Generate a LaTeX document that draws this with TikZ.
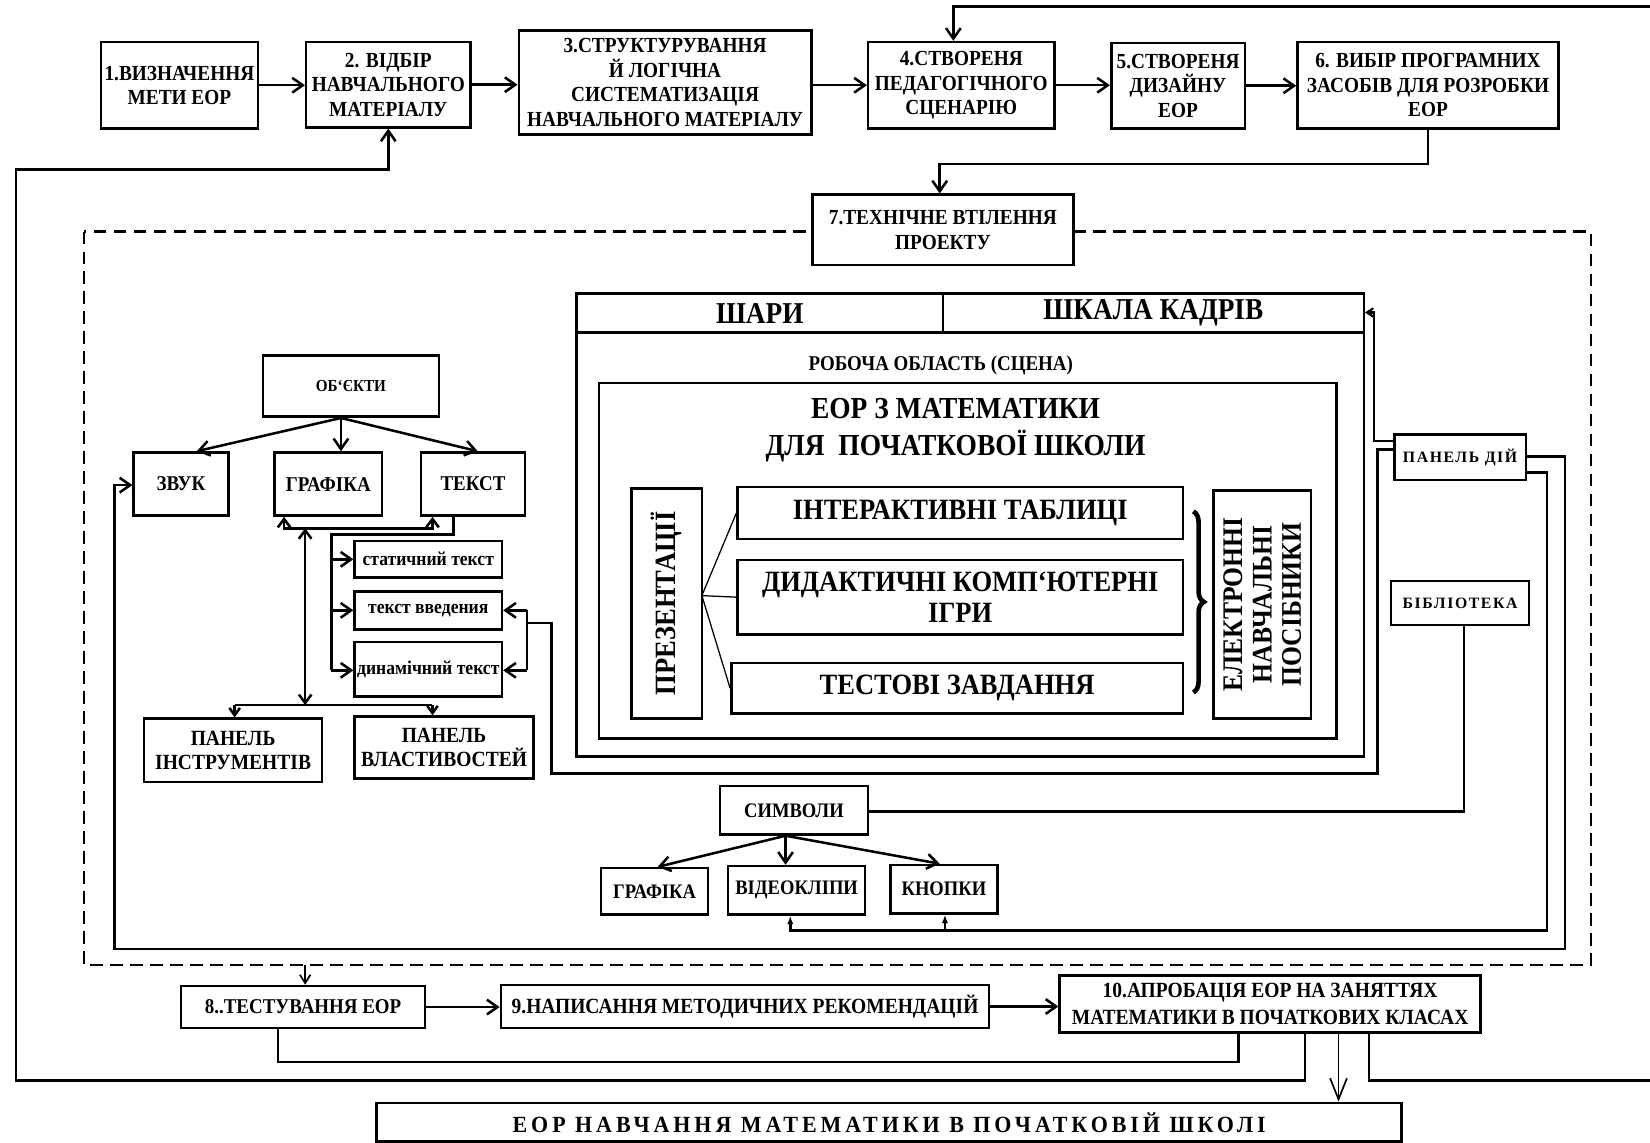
\documentclass[tikz,border=0pt]{standalone}
\usepackage{fontspec}
\setmainfont{Liberation Serif}[FakeStretch=0.9]
\newfontfamily\spfont{Liberation Serif}[LetterSpace=17,FakeStretch=0.95]
\newfontfamily\spsmall{Liberation Serif}[LetterSpace=10]
\usetikzlibrary{arrows.meta,decorations.pathreplacing}
\newcommand\bx[7]{\node[box,#6,minimum width={(#4-#2)*0.5pt},minimum height={(#5-#3)*0.5pt}] (#1) at ({(#2+#4)/2},{(#3+#5)/2}) {#7};}
\begin{document}
\begin{tikzpicture}[x=0.5pt,y=-0.5pt,
  box/.style={draw, line width=1.2pt, fill=white, inner sep=0pt, align=center},
  ln/.style={line width=1.2pt},
  tl/.style={line width=0.6pt},
  arr/.style={ln, -{Straight Barb[length=5pt,width=7pt]}},
  sarr/.style={ln, -{Straight Barb[length=3.5pt,width=5pt]}},
  farr/.style={ln, -{Latex[length=4pt,width=3pt]}},
  bigarr/.style={line width=0.8pt, -{Straight Barb[length=10pt,width=8pt]}},
  dbl/.style={ln, {Straight Barb[length=4pt,width=6pt]}-{Straight Barb[length=4pt,width=6pt]}},
  dsh/.style={line width=1.2pt, dash pattern=on 6pt off 3.5pt},
  fA/.style={font=\fontsize{10.2}{11.6}\selectfont\bfseries},
  fB/.style={font=\fontsize{10}{11.5}\selectfont\bfseries},
  fS/.style={font=\fontsize{8}{9}\selectfont\bfseries},
  fL/.style={font=\fontsize{9.3}{10}\selectfont\bfseries},
  fP/.style={font=\fontsize{10.3}{11.5}\selectfont\bfseries},
  fH/.style={font=\fontsize{14.4}{16}\selectfont\bfseries},
  fR/.style={font=\fontsize{10}{11}\selectfont\bfseries},
  fT/.style={font=\fontsize{14.5}{17.5}\selectfont\bfseries},
  fM/.style={font=\fontsize{14}{14.5}\selectfont\bfseries},
  fE/.style={font=\fontsize{13.5}{14}\selectfont\bfseries},
  fW/.style={font=\fontsize{7.5}{8}\selectfont\spsmall\bfseries},
  fC/.style={font=\fontsize{9.8}{11}\selectfont\bfseries},
  fF/.style={font=\fontsize{11}{12}\selectfont\spfont\bfseries},
]
\useasboundingbox (0,0) rectangle (1568,1086);
\draw[dsh] (80,220) rectangle (1512,917);

% ---------- top row ----------
\bx{b1}{96}{40}{245}{122}{fA}{1.ВИЗНАЧЕННЯ\\МЕТИ ЕОР}
\bx{b2}{291}{40}{447}{121}{fA}{2. ВІДБІР\\НАВЧАЛЬНОГО\\МАТЕРІАЛУ}
\bx{b3}{493}{29}{771}{128}{fA}{3.СТРУКТУРУВАННЯ\\Й ЛОГІЧНА\\СИСТЕМАТИЗАЦІЯ\\НАВЧАЛЬНОГО МАТЕРІАЛУ}
\bx{b4}{825}{40}{1002}{122}{fA}{4.СТВОРЕНЯ\\ПЕДАГОГІЧНОГО\\СЦЕНАРІЮ}
\bx{b5}{1056}{41}{1183}{122}{fA}{5.СТВОРЕНЯ\\ДИЗАЙНУ\\ЕОР}
\bx{b6}{1233}{40}{1481}{122}{fA}{6. ВИБІР ПРОГРАМНИХ\\ЗАСОБІВ ДЛЯ РОЗРОБКИ\\ЕОР}
\bx{b7}{772}{185}{1020}{252}{fA}{7.ТЕХНІЧНЕ ВТІЛЕННЯ\\ПРОЕКТУ}

\draw[arr] (b1.east) -- (b1.east -| b2.west);
\draw[arr] (b2.east) -- (b2.east -| b3.west);
\draw[arr] (b4.west -| b3.east) -- (b4.west);
\draw[arr] (b4.east) -- (b4.east -| b5.west);
\draw[arr] (b5.east) -- (b5.east -| b6.west);

\coordinate (tR) at (1568,6);
\coordinate (t1) at (906,6);
\draw[arr] (tR) -- (t1) -- (t1 |- b4.north);

\coordinate (c6) at (1357,156);
\coordinate (c7) at (893,156);
\draw[arr] (c6 |- b6.south) -- (c6) -- (c7) -- (c7 |- b7.north);

% ---------- bottom row ----------
\bx{b8}{172}{937}{404}{977}{fB}{8..ТЕСТУВАННЯ ЕОР}
\bx{b9}{476}{936}{940}{977}{fP}{9.НАПИСАННЯ МЕТОДИЧНИХ РЕКОМЕНДАЦІЙ}
\bx{b10}{1007}{927}{1407}{981}{font=\fontsize{10.3}{13}\selectfont\bfseries}{10.АПРОБАЦІЯ ЕОР НА ЗАНЯТТЯХ\\МАТЕМАТИКИ В ПОЧАТКОВИХ КЛАСАХ}
\bx{bf}{358}{1048}{1332}{1085}{fF}{ЕОР НАВЧАННЯ МАТЕМАТИКИ В ПОЧАТКОВІЙ ШКОЛІ}

\coordinate (d8) at (290,917);
\draw[line width=0.8pt, -{Straight Barb[length=4pt,width=5pt]}] (d8) -- (d8 |- b8.north);
\draw[arr] (b8.east) -- (b8.east -| b9.west);
\draw[arr] (b9.east) -- (b9.east -| b10.west);

\coordinate (l8a) at (264,1009);
\coordinate (l8b) at (1177,1009);
\draw[ln] (l8a |- b8.south) -- (l8a) -- (l8b) -- (l8b |- b10.south);

\coordinate (fbA) at (1240,1027);
\coordinate (fbB) at (15,1027);
\coordinate (fbC) at (15,161);
\coordinate (fbD) at (369,161);
\draw[arr] (fbA |- b10.south) -- (fbA) -- (fbB) -- (fbC) -- (fbD) -- (fbD |- b2.south);

\coordinate (fa) at (1272,990);
\draw[bigarr] (fa |- b10.south) -- (fa |- bf.north);

\coordinate (rb) at (1301,1027);
\coordinate (rbE) at (1568,1027);
\draw[ln] (rb |- b10.south) -- (rb) -- (rbE);

% ---------- left cluster ----------
\bx{ob}{250}{338}{417}{396}{fS}{ОБ`ЄКТИ}
\bx{zv}{127}{430}{217}{490}{fB}{ЗВУК}
\bx{gr}{261}{430}{363}{490}{fB}{ГРАФІКА}
\bx{tx}{400}{430}{499}{490}{fB}{ТЕКСТ}

\coordinate (obo) at ([xshift=-4.75pt]ob.south);
\draw[arr] (obo) -- ([xshift=7.5pt]zv.north);
\draw[arr] (obo) -- (obo |- gr.north);
\draw[arr] (obo) -- ([xshift=2.25pt]tx.north);

\coordinate (gt1) at (270,502);
\coordinate (gt2) at (411,502);
\draw[dbl] (gt1 |- gr.south) -- (gt1) -- (gt2) -- (gt2 |- tx.south);

\coordinate (v1) at (290,502);
\coordinate (v2) at (290,670);
\draw[dbl] (v1) -- (v2);

\bx{pi}{137}{683}{306}{743}{fP}{ПАНЕЛЬ\\ІНСТРУМЕНТІВ}
\bx{pv}{337}{681}{507}{740}{fP}{ПАНЕЛЬ\\ВЛАСТИВОСТЕЙ}
\coordinate (h1) at (223,670);
\coordinate (h2) at (411,670);
\draw[ln] (h1) -- (h2);
\draw[sarr] (h1) -- (h1 |- pi.north);
\draw[sarr] (h2) -- (h2 |- pv.north);

\bx{st}{337}{514}{477}{549}{fL}{статичний текст}
\bx{tv}{337}{562}{477}{598}{fL}{текст введения}
\bx{dt}{337}{610}{477}{662}{fL}{динамічний текст}

\coordinate (tb1) at (431,508);
\coordinate (tb2) at (315,508);
\coordinate (tb3) at (315,637);
\draw[ln] (tb1 |- tx.south) -- (tb1) -- (tb2) -- (tb3);
\draw[arr] (tb2 |- st.west) -- (st.west);
\draw[arr] (tb2 |- tv.west) -- (tv.west);
\draw[arr] (tb3) -- (tb3 -| dt.west);

\coordinate (rv1) at (501,580);
\coordinate (rv2) at (501,637);
\draw[ln] (rv1) -- (rv2);
\draw[arr] (rv1) -- (rv1 -| tv.east);
\draw[arr] (rv2) -- (rv2 -| dt.east);

% ---------- centre ----------
\bx{sh}{548}{279}{896}{316}{fH}{ШАРИ}
\bx{shk}{896}{279}{1296}{316}{fH}{ШКАЛА КАДРІВ}
\bx{sc}{548}{316}{1296}{719}{}{}
\node[fR] (rob) at (894,347) {РОБОЧА ОБЛАСТЬ (СЦЕНА)};
\bx{im}{569}{364}{1270}{702}{}{}
\node[fT,align=center] (tit) at (908,409) {ЕОР З МАТЕМАТИКИ\\ДЛЯ\ \ ПОЧАТКОВОЇ ШКОЛИ};

\bx{pr}{600}{464}{667}{683}{}{}
\node[fM,rotate=90] (prt) at (pr.center) {ПРЕЗЕНТАЦІЇ};
\bx{it}{701}{463}{1124}{512}{fM}{ІНТЕРАКТИВНІ ТАБЛИЦІ}
\bx{dk}{701}{532}{1124}{603}{fM}{ДИДАКТИЧНІ КОМП`ЮТЕРНІ\\ІГРИ}
\bx{ts}{695}{630}{1124}{678}{fM}{ТЕСТОВІ ЗАВДАННЯ}

\coordinate (pro) at (667,566);
\draw[tl] (pro) -- (it.west);
\draw[tl] (pro) -- (dk.west);
\draw[tl] (pro) -- (ts.west);

\draw[decorate, decoration={brace, amplitude=5pt}, line width=2.2pt] (1134,486) -- (1134,658);

\bx{el}{1153}{466}{1246}{683}{}{}
\node[fE,rotate=90,align=center] (elt) at (el.center) {ЕЛЕКТРОННІ\\НАВЧАЛЬНІ\\ПОСІБНИКИ};

% ---------- right cluster ----------
\bx{pd}{1325}{413}{1450}{456}{fW}{ПАНЕЛЬ ДІЙ}
\bx{bl}{1322}{552}{1453}{594}{fW}{БІБЛІОТЕКА}

\coordinate (la1) at (1306,419);
\coordinate (la2) at (1306,297);
\draw[line width=1pt, -{Straight Barb[length=3pt,width=4pt]}] (la1 -| pd.west) -- (la1) -- (la2) -- (la2 -| shk.east);

\coordinate (lb0) at (1309,427);
\coordinate (lb4) at (1309,735);
\coordinate (lb3) at (524,735);
\coordinate (lb2) at (524,592);
\coordinate (lb1) at (501,592);
\draw[ln] (lb0 -| pd.west) -- (lb0) -- (lb4) -- (lb3) -- (lb2) -- (lb1);

% ---------- symbols ----------
\bx{sy}{684}{747}{825}{793}{fC}{СИМВОЛИ}
\bx{gf}{571}{825}{673}{869}{fC}{ГРАФІКА}
\bx{vk}{692}{823}{822}{869}{fC}{ВІДЕОКЛІПИ}
\bx{kn}{846}{822}{948}{868}{fC}{КНОПКИ}

\coordinate (syo) at ([xshift=-4pt]sy.south);
\draw[arr] (syo) -- ([xshift=1.5pt]gf.north);
\draw[arr] (syo) -- (syo |- vk.north);
\draw[arr] (syo) -- ([xshift=-2pt]kn.north);

\coordinate (bb) at (1391,771);
\draw[ln] (bb |- bl.south) -- (bb) -- (bb -| sy.east);

\coordinate (ro1) at (1487,434);
\coordinate (ro2) at (1487,902);
\coordinate (ro3) at (109,902);
\coordinate (ro4) at (109,461);
\draw[arr] (ro1 -| pd.east) -- (ro1) -- (ro2) -- (ro3) -- (ro4) -- (ro4 -| zv.west);

\coordinate (ri1) at (1470,449);
\coordinate (ri2) at (1470,884);
\coordinate (ri3) at (751,884);
\coordinate (ri4) at (898,884);
\draw[farr] (ri1 -| pd.east) -- (ri1) -- (ri2) -- (ri3) -- (ri3 |- vk.south);
\draw[farr] (ri4) -- (ri4 |- kn.south);
\end{tikzpicture}
\end{document}
